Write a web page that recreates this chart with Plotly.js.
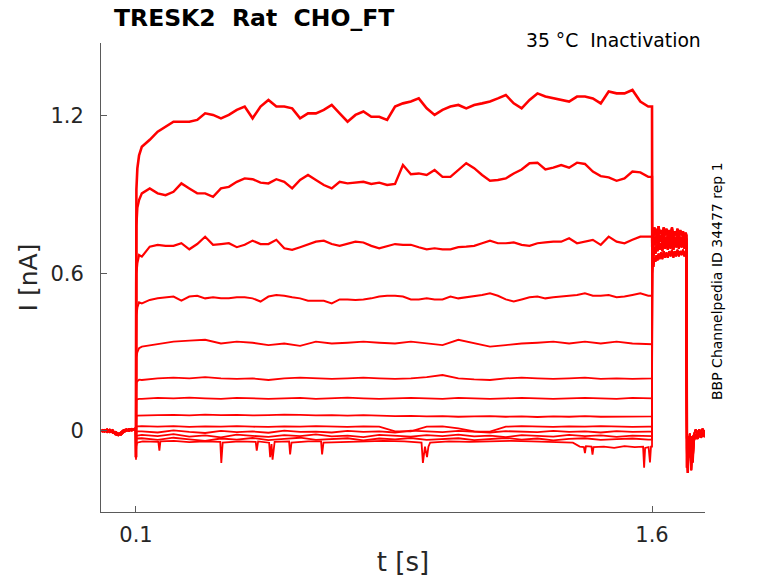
<!DOCTYPE html>
<html>
<head>
<meta charset="utf-8">
<script src="https://cdn.plot.ly/plotly-3.0.1.min.js"></script>
<style>html,body{margin:0;padding:0;background:#fff;}#chart{width:778px;height:583px;}</style>
</head>
<body>
<div id="chart"></div>
<script>
// ---- time samples (s) ----
const tPre  = [0, 0.008, 0.016, 0.024, 0.032, 0.04, 0.048, 0.056, 0.064, 0.072, 0.08, 0.088, 0.096, 0.0995];
const tOn   = [0.1, 0.1004, 0.1012, 0.104, 0.109];
const tFine = [0.117,0.140,0.163,0.186,0.209,0.232,0.255,0.278,0.301,0.324,0.347,0.370,0.393,0.416,0.439,0.462,0.485,0.508,0.531,0.554,0.577,0.600,0.623,0.646,0.669,0.692,0.715,0.738,0.761,0.784,0.807,0.830,0.853,0.876,0.899,0.922,0.945,0.968,0.991,1.014,1.037,1.060,1.083,1.106,1.129,1.152,1.175,1.198,1.221,1.244,1.267,1.290,1.313,1.336,1.359,1.382,1.405,1.428,1.451,1.474,1.497,1.520,1.543,1.566,1.589];
const tCoarse = [0.117,0.163,0.209,0.255,0.301,0.347,0.393,0.439,0.485,0.531,0.577,0.623,0.669,0.715,0.761,0.807,0.853,0.899,0.945,0.991,1.037,1.083,1.129,1.175,1.221,1.267,1.313,1.359,1.405,1.451,1.497,1.543,1.589];
const tStepEnd = 1.6;
const tTail = [1.6006,1.602,1.604,1.607,1.610,1.613,1.616,1.619,1.622,1.626,1.630,1.634,1.638,1.642,1.646,1.650,1.654,1.658,1.662,1.666,1.670,1.674,1.678,1.682,1.686,1.690,1.694,1.698,1.700];
const tPost = [1.7004, 1.7015, 1.704, 1.707, 1.71, 1.714, 1.718, 1.722, 1.727, 1.732, 1.737, 1.742, 1.747, 1.752, 1.756];

// ---- baseline before the step (nA) ----
const preA = [0.004,-0.002,0.005,-0.004,0.002,-0.012,-0.016,-0.008,0.002,0.005,0.001,0.007,0.003,0.004];
const preB = [-0.003,0.003,-0.004,0.004,-0.006,-0.004,-0.010,-0.014,-0.004,0.001,0.006,0.002,0.008,0.002];

// ---- step onset (nA), one row per sweep ----
const onset = [
  [-0.10, 0.62, 0.92, 1.00, 1.05],
  [-0.10, 0.55, 0.78, 0.85, 0.88],
  [-0.10, 0.45, 0.60, 0.64, 0.67],
  [-0.10, 0.35, 0.44, 0.47, 0.49],
  [-0.10, 0.22, 0.28, 0.30, 0.315],
  [-0.10, 0.15, 0.185, 0.19, 0.195],
  [-0.10, 0.10, 0.118, 0.12, 0.122],
  [-0.10, 0.045, 0.056, 0.058, 0.058],
  [-0.08, 0.010, 0.016, 0.017, 0.018],
  [-0.06, -0.010, -0.004, -0.002, -0.003],
  [-0.07, -0.030, -0.020, -0.018, -0.016],
  [-0.09, -0.040, -0.030, -0.029, -0.028]
];

// ---- step currents (nA) ----
const sweep1 = [1.083,1.109,1.140,1.159,1.178,1.178,1.178,1.185,1.210,1.204,1.191,1.204,1.223,1.236,1.191,1.236,1.261,1.236,1.236,1.229,1.191,1.210,1.210,1.223,1.242,1.210,1.178,1.204,1.217,1.197,1.197,1.185,1.236,1.248,1.255,1.267,1.229,1.204,1.223,1.236,1.242,1.229,1.242,1.248,1.255,1.267,1.280,1.248,1.229,1.261,1.286,1.274,1.267,1.261,1.255,1.274,1.274,1.267,1.248,1.293,1.286,1.286,1.299,1.255,1.236];
const sweep2 = [0.905,0.924,0.905,0.898,0.911,0.943,0.924,0.905,0.905,0.892,0.924,0.930,0.949,0.962,0.959,0.946,0.943,0.959,0.949,0.924,0.956,0.975,0.956,0.937,0.924,0.949,0.943,0.946,0.949,0.941,0.946,0.937,0.941,1.013,0.978,0.981,0.975,0.994,0.968,0.968,0.994,1.020,1.001,0.975,0.953,0.956,0.962,0.981,0.996,1.020,1.022,0.996,1.003,1.013,1.003,1.022,1.017,0.988,0.971,0.966,0.953,0.962,0.988,0.985,0.968];
const sweep3 = [0.664,0.702,0.709,0.705,0.705,0.715,0.692,0.712,0.740,0.709,0.712,0.715,0.700,0.709,0.725,0.712,0.712,0.728,0.696,0.690,0.700,0.709,0.721,0.725,0.712,0.705,0.712,0.721,0.718,0.705,0.696,0.705,0.712,0.709,0.709,0.700,0.692,0.696,0.692,0.692,0.700,0.702,0.705,0.715,0.725,0.715,0.715,0.718,0.709,0.705,0.715,0.718,0.721,0.721,0.734,0.715,0.721,0.728,0.709,0.740,0.721,0.715,0.728,0.740,0.740];
const sweep4 = [0.486,0.499,0.505,0.509,0.512,0.496,0.512,0.515,0.505,0.509,0.505,0.505,0.509,0.509,0.505,0.493,0.512,0.518,0.515,0.509,0.505,0.496,0.496,0.496,0.486,0.501,0.501,0.499,0.501,0.505,0.512,0.515,0.515,0.512,0.501,0.501,0.505,0.501,0.501,0.512,0.505,0.509,0.512,0.518,0.524,0.515,0.501,0.493,0.501,0.509,0.512,0.505,0.509,0.512,0.515,0.518,0.524,0.515,0.515,0.518,0.509,0.512,0.518,0.524,0.515];
const sweep5 = [0.321,0.330,0.340,0.344,0.347,0.333,0.340,0.336,0.327,0.333,0.324,0.340,0.333,0.336,0.340,0.336,0.333,0.340,0.333,0.327,0.347,0.333,0.321,0.327,0.333,0.336,0.340,0.333,0.340,0.333,0.340,0.333,0.330];
const sweep6 = [0.194,0.200,0.203,0.200,0.205,0.200,0.198,0.200,0.194,0.200,0.203,0.200,0.198,0.200,0.203,0.200,0.198,0.200,0.205,0.213,0.200,0.196,0.194,0.200,0.203,0.200,0.198,0.200,0.203,0.198,0.200,0.198,0.200];
const sweep7 = [0.122,0.126,0.124,0.127,0.124,0.122,0.126,0.124,0.122,0.124,0.126,0.122,0.124,0.127,0.124,0.122,0.124,0.126,0.124,0.122,0.126,0.124,0.122,0.124,0.126,0.124,0.122,0.124,0.126,0.124,0.122,0.126,0.124];
const sweep8 = [0.058,0.060,0.061,0.059,0.062,0.060,0.061,0.059,0.060,0.062,0.061,0.059,0.060,0.058,0.060,0.058,0.056,0.057,0.055,0.056,0.054,0.055,0.056,0.054,0.055,0.053,0.055,0.054,0.056,0.054,0.055,0.056,0.055];
const sweep9 = [0.018,0.016,0.018,0.015,0.017,0.016,0.018,0.016,0.015,0.017,0.016,0.018,0.016,0.015,0.017,0.016,-0.002,-0.002,0.016,0.017,0.010,-0.002,-0.003,0.016,0.018,0.016,0.015,0.017,0.016,0.018,0.016,0.015,0.016];
const sweep10 = [-0.002,-0.006,0.002,-0.004,-0.008,0.000,-0.005,-0.002,-0.007,0.001,-0.004,-0.003,-0.006,0.000,-0.004,-0.002,-0.006,0.001,-0.003,-0.005,0.000,-0.004,-0.006,-0.001,-0.003,-0.005,0.000,-0.004,-0.002,-0.006,-0.001,-0.004,-0.003];
const sweep11 = [-0.015,-0.020,-0.012,-0.022,-0.017,-0.025,-0.014,-0.019,-0.023,-0.016,-0.020,-0.013,-0.021,-0.018,-0.024,-0.015,-0.019,-0.022,-0.016,-0.020,-0.014,-0.021,-0.018,-0.024,-0.016,-0.019,-0.022,-0.015,-0.020,-0.017,-0.023,-0.018,-0.020];
const sweep12 = [-0.028,-0.034,-0.026,-0.032,-0.038,-0.029,-0.033,-0.027,-0.035,-0.030,-0.026,-0.034,-0.031,-0.028,-0.036,-0.029,-0.032,-0.027,-0.034,-0.030,-0.028,-0.035,-0.031,-0.027,-0.033,-0.029,-0.036,-0.030,-0.028,-0.034,-0.031,-0.029,-0.033];
// lowest sweep, with its sharp downward spikes
const tLow = [0.1,0.1005,0.103,0.12,0.165,0.168,0.171,0.21,0.255,0.30,0.345,0.348,0.352,0.40,0.448,0.451,0.455,0.487,0.49,0.494,0.497,0.50,0.503,0.545,0.548,0.552,0.60,0.638,0.641,0.645,0.70,0.76,0.82,0.88,0.93,0.934,0.94,0.946,0.95,0.955,1.01,1.07,1.13,1.19,1.25,1.31,1.37,1.39,1.402,1.405,1.408,1.424,1.427,1.43,1.46,1.49,1.52,1.55,1.574,1.577,1.58,1.59,1.594,1.597];
const yLow = [-0.11,-0.06,-0.045,-0.04,-0.042,-0.075,-0.04,-0.038,-0.043,-0.04,-0.042,-0.122,-0.045,-0.04,-0.042,-0.075,-0.04,-0.045,-0.10,-0.05,-0.11,-0.06,-0.042,-0.04,-0.09,-0.045,-0.04,-0.04,-0.09,-0.045,-0.042,-0.04,-0.038,-0.04,-0.045,-0.122,-0.06,-0.10,-0.06,-0.045,-0.04,-0.042,-0.04,-0.038,-0.04,-0.042,-0.045,-0.06,-0.062,-0.085,-0.058,-0.06,-0.09,-0.062,-0.06,-0.065,-0.058,-0.062,-0.06,-0.14,-0.065,-0.062,-0.12,-0.06];

// ---- tail currents after the step (nA), noisy band ~0.65-0.78 ----
const tailA = [0.70,0.76,0.74,0.775,0.745,0.77,0.74,0.78,0.75,0.765,0.74,0.775,0.745,0.77,0.74,0.765,0.745,0.775,0.74,0.76,0.745,0.77,0.74,0.765,0.745,0.76,0.74,0.755,0.745];
const tailB = [0.66,0.72,0.70,0.74,0.71,0.745,0.715,0.75,0.72,0.745,0.71,0.75,0.72,0.74,0.715,0.745,0.72,0.75,0.715,0.74,0.72,0.745,0.715,0.74,0.72,0.745,0.715,0.74,0.73];
const tailC = [0.60,0.64,0.625,0.66,0.645,0.67,0.65,0.675,0.655,0.68,0.655,0.685,0.66,0.68,0.66,0.685,0.665,0.69,0.66,0.685,0.665,0.69,0.665,0.685,0.67,0.69,0.665,0.685,0.675];
const tailD = [0.63,0.68,0.66,0.70,0.675,0.71,0.685,0.72,0.69,0.715,0.685,0.725,0.695,0.72,0.69,0.725,0.695,0.72,0.69,0.725,0.70,0.72,0.695,0.725,0.70,0.72,0.695,0.725,0.71];
// ---- after the tail (nA) ----
const postA = [-0.05,-0.14,-0.06,-0.10,-0.03,-0.05,-0.02,-0.035,-0.015,-0.03,-0.01,-0.025,-0.015,-0.02,-0.02];
const postB = [-0.02,-0.06,-0.16,-0.04,-0.08,-0.02,-0.12,-0.03,-0.02,-0.01,-0.02,0.0,-0.015,-0.01,-0.01];
const postC = [0.0,-0.03,-0.02,-0.06,-0.01,-0.15,-0.03,-0.01,0.005,-0.01,0.005,-0.005,0.008,-0.005,0.0];

const sweeps = [sweep1,sweep2,sweep3,sweep4,sweep5,sweep6,sweep7,sweep8,sweep9,sweep10,sweep11,sweep12];
const tails = [tailA,tailB,tailD,tailC,tailA,tailD,tailB,tailC,tailA,tailD,tailB,tailC,tailD];
const posts = [postA,postB,postC,postA,postB,postC,postA,postB,postC,postA,postB,postC,postA];
const widths = [2.6,2.4,2.2,2.0,1.9,1.8,1.8,1.8,1.8,1.8,1.8,1.8,1.8];

function pairUp(ts, ys){ const n=Math.min(ts.length, ys.length); if(ts.length!==ys.length) console.error('length mismatch', ts.length, ys.length); return [ts.slice(0,n), ys.slice(0,n)]; }

const traces = [];
function addTrace(stepT, stepY, k){
  const pre = (k % 2 === 0) ? preA : preB;
  const [sT, sY] = pairUp(stepT, stepY);
  const [tT, tY] = pairUp(tTail, tails[k]);
  const x = tPre.concat(sT, [tStepEnd], tT, tPost);
  const y = pre.concat(sY, [sY[sY.length-1]], tY, posts[k]);
  traces.push({type:'scatter', mode:'lines', x:x, y:y, line:{color:'#ff0000', width:widths[k]}, hoverinfo:'skip', showlegend:false});
}
sweeps.forEach((s,k)=>{
  const grid = (s.length === tFine.length) ? tFine : tCoarse;
  addTrace(tOn.concat(grid), onset[k].concat(s), k);
});
addTrace(tLow, yLow, 12);

const fontFam = 'DejaVu Sans, sans-serif';
const layout = {
  width: 778, height: 583,
  margin: {l:101, r:73, t:43, b:71, pad:0},
  paper_bgcolor:'#ffffff', plot_bgcolor:'#ffffff',
  font: {family: fontFam, color:'#262626'},
  title: {text:'TRESK2\u00a0\u00a0Rat\u00a0\u00a0CHO_FT', font:{family:fontFam, size:23.5, color:'#000000', weight:'bold'},
          x: 114/778, xref:'container', xanchor:'left', y: 1-18/583, yref:'container', yanchor:'middle'},
  xaxis: {range:[-0.0017, 1.754], showgrid:false, zeroline:false, showline:true, linecolor:'#5a5a5a', linewidth:1,
          ticks:'inside', ticklen:6, tickcolor:'#5a5a5a', tickvals:[0.1,1.6], ticktext:['0.1','1.6'],
          tickfont:{size:21, color:'#262626'}, ticklabelstandoff:4,
          title:{text:'t [s]', font:{size:26, color:'#262626'}, standoff:6}},
  yaxis: {range:[-0.309, 1.478], showgrid:false, zeroline:false, showline:true, linecolor:'#5a5a5a', linewidth:1,
          ticks:'inside', ticklen:6, tickcolor:'#5a5a5a', tickvals:[0,0.6,1.2], ticktext:['0','0.6','1.2'],
          tickfont:{size:21, color:'#262626'}, ticklabelstandoff:12,
          title:{text:'I [nA]', font:{size:25, color:'#262626'}, standoff:5}},
  annotations: [
    {text:'35 °C\u00a0\u00a0Inactivation', xref:'paper', yref:'paper', x:(703-101)/604, y:(512-41)/469,
     xanchor:'right', yanchor:'middle', showarrow:false, font:{size:18.8, color:'#000000'}},
    {text:'BBP Channelpedia ID 34477 rep 1', xref:'paper', yref:'paper', x:(717-101)/604, y:(512-281)/469,
     xanchor:'center', yanchor:'middle', textangle:-90, showarrow:false, font:{size:14, color:'#000000'}}
  ]
};
Plotly.newPlot('chart', traces, layout, {staticPlot:true, displayModeBar:false});
</script>
</body>
</html>
